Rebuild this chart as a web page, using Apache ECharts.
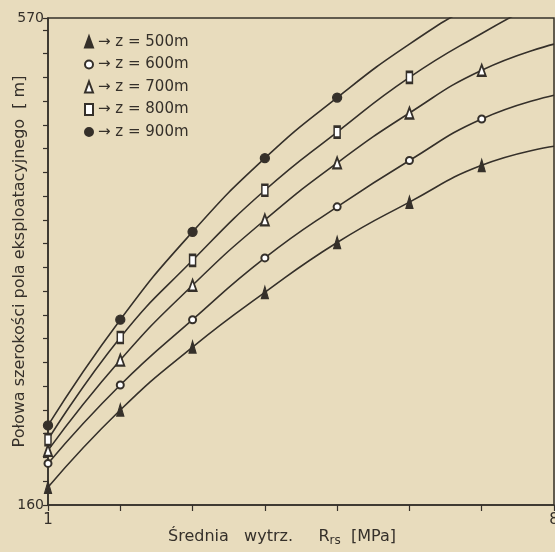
<!DOCTYPE html>
<html>
<head>
<meta charset="utf-8">
<script src="https://cdn.jsdelivr.net/npm/echarts@6/dist/echarts.min.js"></script>
<style>
html,body{margin:0;padding:0;background:#e8dcbd;}
#chart{width:555px;height:552px;}
</style>
</head>
<body>
<div id="chart"></div>
<script>
// Strength R_rs [MPa]
const xValues = [1, 2, 3, 4, 5, 6, 7, 8];
// Half-width of the exploitation field [m] for each depth z
const z500 = [175, 240, 293, 339, 381, 415, 446, 462];
const z600 = [195, 261, 316, 368, 411, 450, 485, 505];
const z700 = [206, 282, 345, 400, 448, 490, 526, 548];
const z800 = [215, 301, 366, 425, 474, 520, 557, 590];
const z900 = [227, 316, 390, 452, 503, 548, 585, 615];
// last x (inclusive) where a measurement marker is drawn
const markedUpTo = [7, 7, 7, 6, 5];
const seriesNames = ['→ z = 500m', '→ z = 600m', '→ z = 700m', '→ z = 800m', '→ z = 900m'];
const yTickLabels = [160, 570];
const xTickLabels = [1, 8];

const ink = '#35302a';
const values = [z500, z600, z700, z800, z900];
const symbols = ['triangle', 'emptyCircle', 'emptyTriangle', 'emptyRect', 'circle'];
const symbolSizes = [[7, 12], 7, [8, 11], [6, 11], 9];

const series = values.map((arr, i) => ({
  name: seriesNames[i],
  type: 'line',
  smooth: 0.5,
  clip: true,
  symbol: symbols[i],
  symbolSize: symbolSizes[i],
  showAllSymbol: true,
  lineStyle: { color: ink, width: 1.6 },
  itemStyle: { color: ink, borderColor: ink, borderWidth: 1.3 },
  emphasis: { disabled: true },
  data: arr.map((v, k) => {
    const item = { value: [xValues[k], v] };
    if (xValues[k] > markedUpTo[i]) item.symbol = 'none';
    return item;
  })
}));

const chart = echarts.init(document.getElementById('chart'), null, { renderer: 'canvas' });
chart.setOption({
  backgroundColor: '#e8dcbd',
  animation: false,
  textStyle: { fontFamily: 'DejaVu Sans', color: ink },
  grid: {
    left: 48, right: 1, top: 18, bottom: 47,
    containLabel: false,
    outerBoundsMode: 'none',
    show: true, borderColor: ink, borderWidth: 1.5, backgroundColor: 'transparent'
  },
  legend: {
    orient: 'vertical',
    left: 79, top: 29,
    itemWidth: 8, itemHeight: 11, itemGap: 6.5,
    selectedMode: false,
    textStyle: { fontSize: 15, color: ink, lineHeight: 16, fontFamily: 'DejaVu Sans' },
    data: seriesNames.map((n, i) => ({ name: n, icon: symbols[i] }))
  },
  xAxis: {
    type: 'value',
    min: 1, max: 8, interval: 1,
    axisLine: { show: true, lineStyle: { color: ink, width: 1.5 } },
    axisTick: { show: true, length: 6, lineStyle: { color: ink, width: 1.2 } },
    splitLine: { show: false },
    axisLabel: {
      fontSize: 15, color: ink, margin: 8,
      formatter: v => (xTickLabels.includes(v) ? String(v) : '')
    },
    name: 'Średnia   wytrz.     R{sub|rs}  [MPa]',
    nameLocation: 'middle',
    nameMoveOverlap: false,
    nameGap: 22,
    nameTextStyle: {
      fontSize: 16, color: ink, padding: [0, 38, 0, 0],
      rich: { sub: { fontSize: 12, color: ink, padding: [8, 0, 0, 0] } }
    }
  },
  yAxis: {
    type: 'value',
    min: 160, max: 570, interval: 20,
    axisLine: { show: true, lineStyle: { color: ink, width: 1.5 } },
    axisTick: { show: true, length: 5, lineStyle: { color: ink, width: 1.2 } },
    splitLine: { show: false },
    axisLabel: {
      fontSize: 14, color: ink, margin: 4,
      formatter: v => (yTickLabels.includes(v) ? String(v) : '')
    },
    name: 'Połowa szerokości pola eksploatacyjnego  [ m]',
    nameLocation: 'middle',
    nameMoveOverlap: false,
    nameGap: 20,
    nameTextStyle: { fontSize: 16, color: ink }
  },
  series: series
});
</script>
</body>
</html>
